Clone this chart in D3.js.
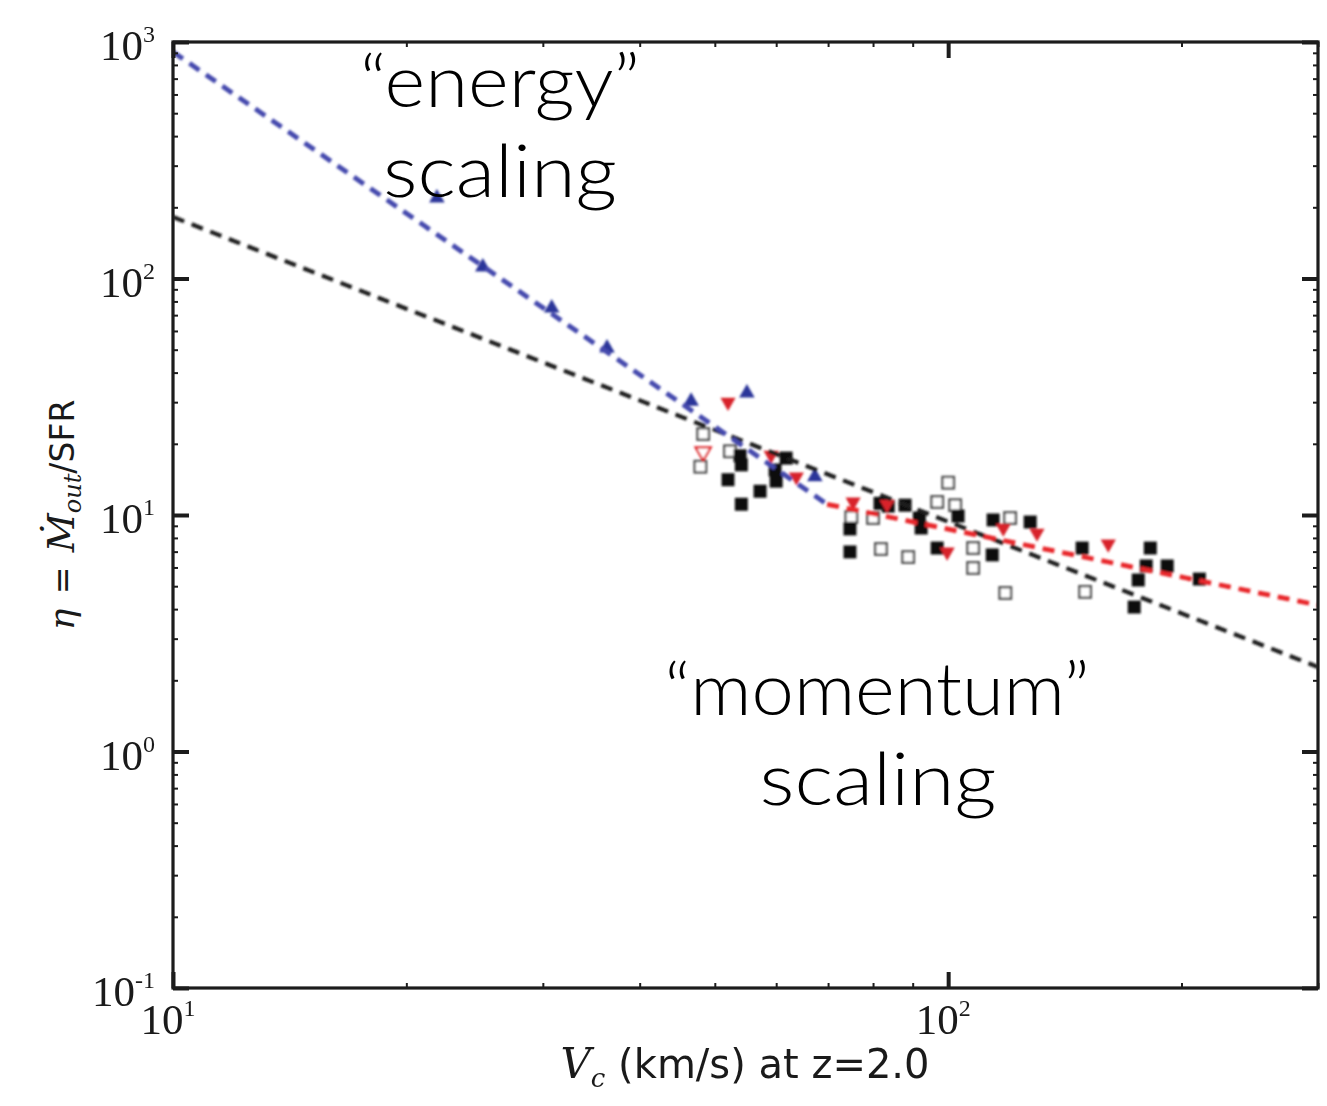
<!DOCTYPE html>
<html>
<head>
<meta charset="utf-8">
<script src="https://cdn.jsdelivr.net/npm/d3@7"></script>
<style>
  html, body { margin: 0; padding: 0; background: #ffffff; }
  svg { display: block; }
</style>
</head>
<body>
<svg id="chart" width="1327" height="1106"></svg>
<script>
// Mass-loading factor eta = Mdot_out / SFR against circular velocity V_c at z = 2.0

// Simulated haloes: [V_c (km/s), eta]
const blueUpTriangles = [
  [21.9, 219], [25.1, 111.8], [30.8, 75.0], [36.3, 50.8],
  [46.6, 30.3], [55.0, 32.8], [67.3, 14.5]
];
const redDownTriangles = [
  [52.0, 30.0], [59.1, 17.9], [63.7, 14.5], [75.4, 11.35], [83.4, 11.1],
  [99.7, 6.98], [117.8, 8.81], [130.2, 8.39], [160.9, 7.54]
];
const redOpenTriangles = [[48.3, 18.5]];
const blackSquares = [
  [53.9, 17.8], [54.1, 16.3], [52.0, 14.1], [54.1, 11.1], [57.2, 12.6],
  [60.0, 13.9], [59.8, 15.5], [61.8, 17.4],
  [74.7, 8.73], [74.7, 6.98], [81.7, 11.2], [83.7, 10.9], [88.0, 11.0],
  [91.8, 9.71], [92.3, 8.81], [96.8, 7.25], [103.0, 9.9], [114.3, 9.53],
  [114.0, 6.78], [127.6, 9.34], [148.9, 7.25], [182.3, 7.25], [180.1, 6.09],
  [191.7, 6.09], [175.9, 5.31], [210.9, 5.36], [173.8, 4.08]
];
const openSquares = [
  [48.3, 22.0], [47.9, 16.0], [52.3, 18.6], [75.0, 9.8], [80.0, 9.71],
  [81.9, 7.18], [88.8, 6.64], [100, 13.7], [96.8, 11.35], [102.1, 11.0],
  [107.7, 7.25], [107.7, 5.97], [118.5, 4.68], [120.2, 9.71], [150.2, 4.73]
];

// Scaling relations (end points of each power law)
const energyFit   = [[10, 907.6], [69.8, 11.1]];
const momentumFit = [[10, 182], [300, 2.276]];
const highMassFit = [[69.8, 11.1], [300, 4.16]];

// Axis ticks
const xMajor = [10, 100];
const xMinor = [20, 30, 40, 50, 60, 70, 80, 90, 200, 300];
const xTickExp = ["1", "2"];
const yMajor = [0.1, 1, 10, 100, 1000];
const yMinor = [];
[0.1, 1, 10, 100].forEach(d => { for (let k = 2; k <= 9; k++) yMinor.push(+(k * d).toPrecision(3)); });
const yTickExp = ["-1", "0", "1", "2", "3"];

// Annotation labels: text, centre x, baseline y, set width
const annotations = [
  { text: "\u201Cenergy\u201D",   cx: 500, base: 107, width: 280 },
  { text: "scaling",              cx: 500, base: 197, width: 234 },
  { text: "\u201Cmomentum\u201D", cx: 877, base: 715, width: 425 },
  { text: "scaling",              cx: 878, base: 805, width: 237 }
];

const svg = d3.select("#chart");
const plotL = 173, plotR = 1318, plotT = 42, plotB = 988;

const x = d3.scaleLog().domain([10, 300]).range([plotL, plotR]);
const y = d3.scaleLog().domain([0.1, 1000]).range([plotB, plotT]);

svg.append("rect").attr("width", 1327).attr("height", 1106).attr("fill", "#ffffff");

const defs = svg.append("defs");
defs.append("filter").attr("id", "soft")
  .attr("x", "-5%").attr("y", "-5%").attr("width", "110%").attr("height", "110%")
  .append("feGaussianBlur").attr("stdDeviation", 0.8);
defs.append("clipPath").attr("id", "plotClip")
  .append("rect").attr("x", plotL).attr("y", plotT).attr("width", plotR - plotL).attr("height", plotB - plotT);

// ---- data marks ----
const marks = svg.append("g").attr("clip-path", "url(#plotClip)")
  .append("g").attr("filter", "url(#soft)");

const sq = 13, osq = 11.5;
marks.append("g").selectAll("rect").data(openSquares).join("rect")
  .attr("x", d => x(d[0]) - osq / 2).attr("y", d => y(d[1]) - osq / 2)
  .attr("width", osq).attr("height", osq)
  .attr("fill", "#ffffff").attr("stroke", "#555555").attr("stroke-width", 2.4);

marks.append("g").selectAll("rect").data(blackSquares).join("rect")
  .attr("x", d => x(d[0]) - sq / 2).attr("y", d => y(d[1]) - sq / 2)
  .attr("width", sq).attr("height", sq)
  .attr("fill", "#111111");

const tri = d3.symbol().type(d3.symbolTriangle).size(100);
marks.append("g").selectAll("path").data(redOpenTriangles).join("path")
  .attr("d", tri)
  .attr("transform", d => `translate(${x(d[0])},${y(d[1])}) rotate(180)`)
  .attr("fill", "#ffffff").attr("stroke", "#e0262b").attr("stroke-width", 2.2);

marks.append("g").selectAll("path").data(redDownTriangles).join("path")
  .attr("d", tri)
  .attr("transform", d => `translate(${x(d[0])},${y(d[1])}) rotate(180)`)
  .attr("fill", "#d8222a");

marks.append("g").selectAll("path").data(blueUpTriangles).join("path")
  .attr("d", d3.symbol().type(d3.symbolTriangle).size(105))
  .attr("transform", d => `translate(${x(d[0])},${y(d[1])})`)
  .attr("fill", "#2c369a");

const line = d3.line().x(d => x(d[0])).y(d => y(d[1]));
const fits = [
  { pts: momentumFit, color: "#1e1e1e", w: 4.2 },
  { pts: highMassFit, color: "#e8262b", w: 4.8 },
  { pts: energyFit,   color: "#4549ad", w: 4.8 }
];
marks.append("g").selectAll("path").data(fits).join("path")
  .attr("d", d => line(d.pts))
  .attr("fill", "none")
  .attr("stroke", d => d.color)
  .attr("stroke-width", d => d.w)
  .attr("stroke-dasharray", "12,8");

// ---- frame and ticks ----
const axes = svg.append("g");
function addAxis(gen, tx, ty, width) {
  axes.append("g").attr("transform", `translate(${tx},${ty})`).call(gen)
    .call(g => {
      g.select(".domain").remove();
      g.selectAll("text").remove();
      g.selectAll("line").attr("stroke", "#1c1c1c").attr("stroke-width", width);
    });
}
addAxis(d3.axisBottom(x).tickValues(xMajor).tickSize(-16), 0, plotB, 4);
addAxis(d3.axisTop(x).tickValues(xMajor).tickSize(-16), 0, plotT, 4);
addAxis(d3.axisBottom(x).tickValues(xMinor).tickSize(-5), 0, plotB, 2);
addAxis(d3.axisTop(x).tickValues(xMinor).tickSize(-5), 0, plotT, 2);
addAxis(d3.axisLeft(y).tickValues(yMajor).tickSize(-16), plotL, 0, 4);
addAxis(d3.axisRight(y).tickValues(yMajor).tickSize(-16), plotR, 0, 4);
addAxis(d3.axisLeft(y).tickValues(yMinor).tickSize(-5), plotL, 0, 2);
addAxis(d3.axisRight(y).tickValues(yMinor).tickSize(-5), plotR, 0, 2);

axes.append("rect")
  .attr("x", plotL).attr("y", plotT).attr("width", plotR - plotL).attr("height", plotB - plotT)
  .attr("fill", "none").attr("stroke", "#1c1c1c").attr("stroke-width", 3.2);

// ---- tick labels ----
const serif = "'Liberation Serif', 'Times New Roman', serif";
const labels = svg.append("g").attr("fill", "#1a1a1a").attr("font-family", serif);

const yl = labels.append("g").selectAll("text").data(yMajor).join("text")
  .attr("x", 155).attr("y", d => y(d) + 18)
  .attr("text-anchor", "end");
yl.append("tspan").attr("font-size", 43).text("10");
yl.append("tspan").attr("font-size", 24).attr("dy", -18).text((d, i) => yTickExp[i]);

const xl = labels.append("g").selectAll("text").data(xMajor).join("text")
  .attr("x", d => x(d) - 5).attr("y", 1034)
  .attr("text-anchor", "middle");
xl.append("tspan").attr("font-size", 43).text("10");
xl.append("tspan").attr("font-size", 24).attr("dy", -18).text((d, i) => xTickExp[i]);

// ---- axis titles ----
const sans = "'DejaVu Sans', Verdana, sans-serif";
const xt = svg.append("text")
  .attr("x", 745).attr("y", 1078).attr("text-anchor", "middle").attr("fill", "#1a1a1a");
xt.append("tspan").attr("font-family", "'DejaVu Serif', serif").attr("font-style", "italic").attr("font-size", 42).text("V");
xt.append("tspan").attr("font-family", "'DejaVu Serif', serif").attr("font-style", "italic").attr("font-size", 26).attr("dy", 9).text("c");
xt.append("tspan").attr("font-family", sans).attr("font-size", 40).attr("dy", -9).text(" (km/s) at z=2.0");

const yt = svg.append("text")
  .attr("transform", "translate(74,515) rotate(-90)")
  .attr("text-anchor", "middle").attr("fill", "#1a1a1a");
yt.append("tspan").attr("font-family", "'DejaVu Serif', serif").attr("font-style", "italic").attr("font-size", 36).text("\u03B7");
yt.append("tspan").attr("font-family", sans).attr("font-size", 33).attr("dx", 4).text(" = ");
yt.append("tspan").attr("font-family", "'DejaVu Serif', serif").attr("font-style", "italic").attr("font-size", 38).attr("dx", 4).text("\u1E40");
yt.append("tspan").attr("font-family", "'DejaVu Serif', serif").attr("font-style", "italic").attr("font-size", 24).attr("dy", 7).text("out");
yt.append("tspan").attr("font-family", sans).attr("font-size", 33).attr("dy", -7).text("/SFR");

// ---- annotations ----
svg.append("g")
  .attr("font-family", "Lato, 'Helvetica Neue', Arial, sans-serif")
  .attr("font-weight", 300).attr("font-size", 72).attr("fill", "#000000")
  .selectAll("text").data(annotations).join("text")
  .attr("x", d => d.cx - d.width / 2).attr("y", d => d.base)
  .attr("textLength", d => d.width).attr("lengthAdjust", "spacingAndGlyphs")
  .text(d => d.text);
</script>
</body>
</html>
